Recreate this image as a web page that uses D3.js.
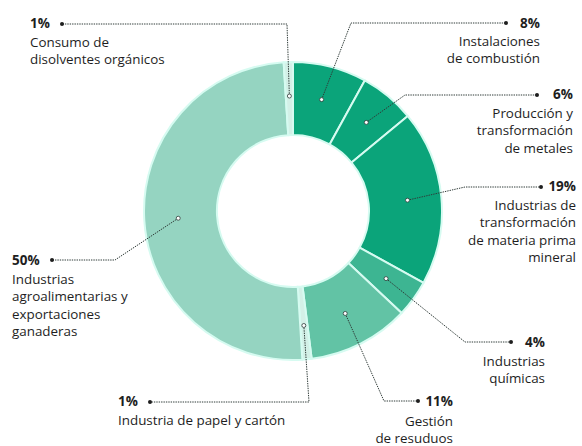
<!DOCTYPE html>
<html>
<head>
<meta charset="utf-8">
<script src="https://cdn.jsdelivr.net/npm/d3@7"></script>
<style>
  html, body { margin: 0; padding: 0; background: #ffffff; }
  svg { display: block; }
  text { font-family: "Open Sans", "Noto Sans", sans-serif; fill: #1e1e1e; }
</style>
</head>
<body>
<svg id="chart" width="582" height="446"></svg>
<script>
// ---- data ----
const categories = [
  "Instalaciones de combustión",
  "Producción y transformación de metales",
  "Industrias de transformación de materia prima mineral",
  "Industrias químicas",
  "Gestión de resuduos",
  "Industria de papel y cartón",
  "Industrias agroalimentarias y exportaciones ganaderas",
  "Consumo de disolventes orgánicos"
];
const values = [8, 6, 19, 4, 11, 1, 50, 1];
const labelLines = [
  ["Instalaciones", "de combustión"],
  ["Producción y", "transformación", "de metales"],
  ["Industrias de", "transformación", "de materia prima", "mineral"],
  ["Industrias", "químicas"],
  ["Gestión", "de resuduos"],
  ["Industria de papel y cartón"],
  ["Industrias", "agroalimentarias y", "exportaciones", "ganaderas"],
  ["Consumo de", "disolventes orgánicos"]
];
const colors = ["#0ba47a", "#0ba47a", "#0ba47a", "#3db592", "#62c3a5", "#d3f0e7", "#95d4c1", "#d3f0e7"];

// ---- layout (positions of label callouts) ----
const layout = [
  { elbow: [351, 23], end: [506, 23], tx: 540, anchor: "end", pctY: 28, lineY: 46 },
  { elbow: [405, 95], end: [537, 95], tx: 573, anchor: "end", pctY: 99, lineY: 118 },
  { elbow: [465, 187], end: [541, 187], tx: 576, anchor: "end", pctY: 191, lineY: 210 },
  { elbow: [465, 342], end: [511, 342], tx: 545, anchor: "end", pctY: 347, lineY: 366 },
  { elbow: [384, 401], end: [418, 401], tx: 453, anchor: "end", pctY: 406, lineY: 426 },
  { elbow: [309, 402], end: [150, 402], tx: 118, anchor: "start", pctY: 406, lineY: 425 },
  { elbow: [115, 260], end: [52, 260], tx: 12, anchor: "start", pctY: 265, lineY: 284 },
  { elbow: [287, 24], end: [62, 24], tx: 30, anchor: "start", pctY: 28, lineY: 47 }
];

const cx = 293, cy = 211, rOuter = 149, rInner = 76, rDot = 115;
const lineH = 17.3;

const svg = d3.select("#chart");
const g = svg.append("g").attr("transform", `translate(${cx},${cy})`);

const pie = d3.pie().sort(null).value(d => d).startAngle(0).endAngle(2 * Math.PI);
const arcs = pie(values);
const arc = d3.arc().innerRadius(rInner).outerRadius(rOuter);
const dotArc = d3.arc().innerRadius(rDot).outerRadius(rDot);

g.selectAll("path.slice")
  .data(arcs)
  .join("path")
  .attr("class", "slice")
  .attr("d", arc)
  .attr("fill", (d, i) => colors[i])
  .attr("stroke", "#d6fbf1")
  .attr("stroke-width", 2)
  .attr("stroke-linejoin", "round");

// leader lines and labels
const lines = svg.append("g");
const labels = svg.append("g");
arcs.forEach((a, i) => {
  const c = dotArc.centroid(a);
  const p0 = [cx + c[0], cy + c[1]];
  const L = layout[i];
  lines.append("path")
    .attr("d", d3.line()([p0, L.elbow, L.end]))
    .attr("fill", "none")
    .attr("stroke", "#2f3b38")
    .attr("stroke-width", 1)
    .attr("stroke-dasharray", "1.4 1");
  lines.append("circle")
    .attr("cx", p0[0]).attr("cy", p0[1]).attr("r", 2)
    .attr("fill", "#ffffff").attr("stroke", "#2f3b38").attr("stroke-width", 0.8);
  lines.append("circle")
    .attr("cx", L.end[0]).attr("cy", L.end[1]).attr("r", 2)
    .attr("fill", "#1e1e1e");

  labels.append("text")
    .attr("text-anchor", L.anchor)
    .attr("x", L.tx).attr("y", L.pctY)
    .attr("font-weight", 700)
    .attr("font-size", 13.5)
    .text(values[i] + "%");
  const t = labels.append("text")
    .attr("text-anchor", L.anchor)
    .attr("font-size", 13.4);
  labelLines[i].forEach((s, k) => {
    t.append("tspan")
      .attr("x", L.tx).attr("y", L.lineY + k * lineH)
      .text(s);
  });
});
</script>
</body>
</html>
